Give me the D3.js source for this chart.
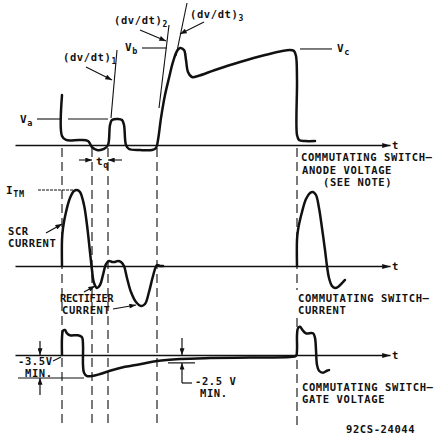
<!DOCTYPE html>
<html>
<head>
<meta charset="utf-8">
<script src="https://cdn.jsdelivr.net/npm/d3@7"></script>
<style>
html, body { margin: 0; padding: 0; background: #fff; }
svg text { font-family: "DejaVu Sans Mono", "Liberation Mono", monospace; font-weight: bold; font-size: 10.5px; letter-spacing: 0.6px; fill: #111; }
</style>
</head>
<body>
<div id="chart"></div>
<script>
// time in arbitrary units, one commutation cycle
var events = [9.4, 15.4, 18.6, 28.4, 56.4];

// commutating switch anode voltage, % of Vb
var anodeT = [9.4, 9.4, 10.2, 13, 14.6, 15.4, 16.4, 17.8, 18.6, 19, 19.4, 20.6, 21.4, 21.8, 22.2, 22.8, 25, 27.4, 28.2, 28.6, 29.2, 30, 30.8, 31.6, 32.4, 33, 33.8, 34.2, 34.6, 35.4, 36.6, 40, 45, 50, 55, 55.8, 56.2, 56.4, 56.4, 56.8, 58, 60];
var anodeV = [51.5, 9.3, 5.2, 5.2, 4.1, -2.1, -5.2, -4.1, 0, 20.6, 25.8, 26.8, 25.8, 20.6, 0, -4.1, -5.2, -5.2, -3.1, 5.2, 27.8, 51.5, 69.1, 85.6, 96.9, 100, 97.9, 87.6, 75.3, 70.1, 71.1, 77.3, 85.6, 92.8, 97.9, 96.9, 91.8, 67, 10.3, 5.2, 4.1, 4.1];
var levelVa = 26.8, levelVb = 100, levelVc = 99;

// tangents (dv/dt)1..3 : [t0, v0, t1, v1]
var tangents = [[20.4, 97.9, 19.2, 27.8], [30.8, 123.7, 28.8, 38.1], [34.4, 146.4, 32.2, 91.8]];

// SCR / rectifier current, % of ITM
var scrT = [9.4, 9.4, 9.6, 10.2, 11, 11.8, 12.4, 13, 13.8, 14.4, 15, 15.4, 15.8, 16.4, 17, 17.6, 18.2, 18.8, 19.4, 20, 20.6, 21.2, 21.8, 22.4, 23.2, 24.2, 25.2, 26, 26.8, 27.6, 28.4, 29, 29.6];
var scrI = [0, 34.2, 50, 71.1, 89.5, 98.7, 100, 97.4, 80.3, 53.9, 18.4, -5.3, -22.4, -28.9, -25, -11.8, 2.6, 6.6, 5.3, 5.3, 6.6, 5.3, 0, -15.8, -34.2, -47.4, -52.6, -50, -34.2, -13.2, 1.3, 0, 0];

// commutating switch current, % of ITM
var comT = [56.4, 56.4, 56.6, 57.4, 58.2, 59, 59.6, 60.2, 60.8, 61.4, 62, 62.4, 62.8, 63.4, 64, 64.6, 65.4, 66];
var comI = [0, 34.2, 47.4, 71.1, 88.2, 96.1, 97.4, 93.4, 76.3, 50, 21.1, 0, -15.8, -26.3, -28.9, -27.6, -22.4, -18.4];

// commutating switch gate voltage, V
var gateT = [9.4, 9.4, 9.6, 10, 10.4, 11, 12.6, 13.4, 13.6, 13.6, 13.8, 14.4, 15.4, 17, 19, 22, 25, 28.4, 33, 39, 47, 55, 56.2, 56.4, 56.4, 56.6, 57, 57.6, 58.2, 59.6, 60, 60.2, 60.4, 60.8, 61.6, 62.4, 62.8];
var gateV = [0, 2.6, 3.7, 3.8, 3.3, 3.0, 3.0, 2.7, 1.5, -1.5, -2.7, -3.2, -3.2, -2.9, -2.4, -1.8, -1.4, -0.9, -0.6, -0.46, -0.38, -0.3, -0.15, 0.76, 3.0, 4.1, 4.3, 3.7, 3.3, 3.3, 2.6, 0.76, -1.5, -2.4, -2.7, -2.4, -2.3];
var gateMarks = [-3.5, -1.2];
var gateLabels = ["-3.5V", "-2.5 V"];

var width = 439, height = 439;

var x = d3.scaleLinear().domain([0, 75]).range([15, 390]);
var yV = d3.scaleLinear().domain([0, 100]).range([145, 48]);
var yI = d3.scaleLinear().domain([0, 100]).range([266, 190]);
var yG = d3.scaleLinear().domain([-3.5, 0]).range([378, 355]);

var svg = d3.select("#chart").append("svg")
  .attr("width", width)
  .attr("height", height);

var defs = svg.append("defs");
defs.append("marker")
  .attr("id", "ax").attr("viewBox", "0 0 10 6")
  .attr("refX", 10).attr("refY", 3)
  .attr("markerWidth", 11).attr("markerHeight", 5)
  .attr("markerUnits", "userSpaceOnUse").attr("orient", "auto")
  .append("path").attr("d", "M0,0L10,3L0,6z").attr("fill", "#111");
defs.append("marker")
  .attr("id", "ld").attr("viewBox", "0 0 8 6")
  .attr("refX", 8).attr("refY", 3)
  .attr("markerWidth", 8).attr("markerHeight", 5)
  .attr("markerUnits", "userSpaceOnUse").attr("orient", "auto")
  .append("path").attr("d", "M0,0L8,3L0,6z").attr("fill", "#111");

// event lines
var dashed = svg.append("g")
  .attr("stroke", "#222").attr("stroke-width", 1.2)
  .attr("stroke-dasharray", "9,5").attr("fill", "none");
events.forEach(function(t, i) {
  if (i < 4) {
    dashed.append("line").attr("x1", x(t)).attr("x2", x(t)).attr("y1", 148).attr("y2", 426);
  } else {
    dashed.append("line").attr("x1", x(t)).attr("x2", x(t)).attr("y1", 148).attr("y2", 290);
    dashed.append("line").attr("x1", x(t)).attr("x2", x(t)).attr("y1", 318).attr("y2", 430);
  }
});

// time axes
[yV(0), yI(0), yG(0)].forEach(function(y0) {
  var g = svg.append("g")
    .attr("transform", "translate(0," + y0 + ")")
    .call(d3.axisBottom(x).tickValues([]).tickSizeOuter(0));
  g.select(".domain").attr("stroke", "#111").attr("stroke-width", 1.3).attr("marker-end", "url(#ax)");
  svg.append("text").attr("x", x(75) + 2).attr("y", y0 + 4).text("t");
});

var curve = d3.curveCatmullRom.alpha(0.5);
function wave(ts, vs, ys) {
  var line = d3.line().x(function(d) { return x(d[0]); }).y(function(d) { return ys(d[1]); }).curve(curve);
  svg.append("path")
    .datum(d3.zip(ts, vs))
    .attr("d", line)
    .attr("fill", "none").attr("stroke", "#111")
    .attr("stroke-width", 2.5).attr("stroke-linejoin", "round").attr("stroke-linecap", "round");
}
wave(anodeT, anodeV, yV);
wave(scrT, scrI, yI);
wave(comT, comI, yI);
wave(gateT, gateV, yG);

function seg(x1, y1, x2, y2, w, arrow) {
  var l = svg.append("line")
    .attr("x1", x1).attr("y1", y1).attr("x2", x2).attr("y2", y2)
    .attr("stroke", "#111").attr("stroke-width", w || 1.2);
  if (arrow) l.attr("marker-end", "url(#ld)");
  return l;
}
function label(px, py, main, sub, size) {
  var t = svg.append("text").attr("x", px).attr("y", py).style("font-size", (size || 11) + "px");
  t.append("tspan").text(main);
  if (sub) t.append("tspan").attr("dy", 3).style("font-size", ((size || 11) - 2.5) + "px").text(sub);
  return t;
}
function text(px, py, s) {
  return svg.append("text").attr("x", px).attr("y", py).text(s);
}

// tangents
tangents.forEach(function(d) {
  seg(x(d[0]), yV(d[1]), x(d[2]), yV(d[3]), 1.1);
});
label(63, 61, "(dv/dt)", "1", 10.5);
seg(86, 67, 112, 80, 1.2, true);
label(114, 24, "(dv/dt)", "2", 10.5);
seg(140, 30, 166, 41, 1.2, true);
label(190, 18, "(dv/dt)", "3", 10.5);
seg(204, 22, 180, 34, 1.2, true);

// voltage levels
label(20, 123, "V", "a");
seg(37, yV(levelVa), x(9.0), yV(levelVa), 1.1);
seg(x(10.6), yV(levelVa), x(18.6), yV(levelVa), 1.1);
label(125, 51, "V", "b");
seg(x(25.4), yV(levelVb), x(30.4), yV(levelVb), 1.1);
label(337, 52, "V", "c");
seg(x(57), yV(levelVc), x(63.4), yV(levelVc), 1.1);

// tq
label(96, 165, "t", "q");
seg(79, 160, 92, 160, 1.1, true);
seg(122, 160, 108, 160, 1.1, true);

// current labels
label(6, 194, "I", "TM");
seg(38, yI(100), x(11.6), yI(100), 1).attr("stroke-dasharray", "3,1");
text(8, 234.5, "SCR");
text(8, 247, "CURRENT");
seg(46, 233, 62, 224, 1.2, true);
text(60, 301.5, "RECTIFIER").style("letter-spacing", "-0.4px");
text(62, 314, "CURRENT");
seg(84, 292, 95, 286, 1.2, true);
seg(113, 309, 136, 305, 1.2, true);

// gate level marks
var gm0 = yG(gateMarks[0]), gm1 = yG(gateMarks[1]);
seg(18, gm0, 84, gm0, 1.2);
seg(40, 341, 40, yG(0), 1.2, true);
seg(40, 395, 40, gm0, 1.2, true);
text(18, 364.5, gateLabels[0]);
text(25, 377, "MIN.");
seg(53, 361, 61, 357, 1.1);

seg(168, gm1, 195, gm1, 1.2);
seg(182, 338, 182, yG(0), 1.2, true);
seg(182, 383, 182, gm1, 1.2, true);
seg(182, 383, 192, 383, 1.2);
text(195, 384.5, gateLabels[1]);
text(200, 397, "MIN.");

// waveform names
text(301, 161, "COMMUTATING SWITCH\u2014");
text(302, 173.5, "ANODE VOLTAGE");
text(323, 186, "(SEE NOTE)");
text(298, 301.5, "COMMUTATING SWITCH\u2014");
text(298, 314, "CURRENT");
text(302, 390.5, "COMMUTATING SWITCH\u2014");
text(302, 403, "GATE VOLTAGE");

text(346, 433, "92CS-24044");
</script>
</body>
</html>
